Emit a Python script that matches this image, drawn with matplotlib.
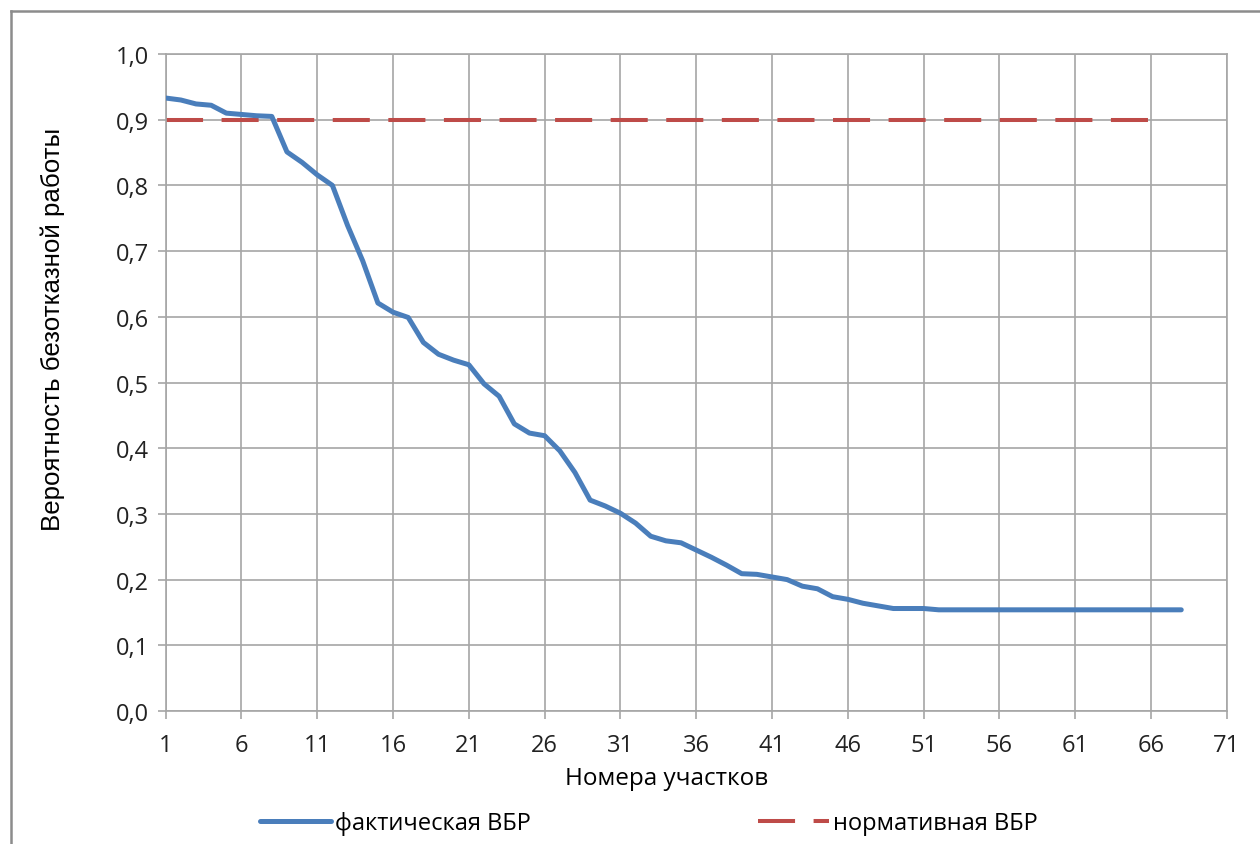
import matplotlib
matplotlib.use('Agg')
from matplotlib import pyplot as plt
from matplotlib.lines import Line2D
from matplotlib.ticker import FuncFormatter

# data
sections = list(range(1, 69))
actual = [0.933, 0.930, 0.924, 0.922, 0.910, 0.908, 0.906, 0.905, 0.851, 0.835,
          0.816, 0.800, 0.739, 0.685, 0.621, 0.607, 0.599, 0.561, 0.543, 0.534,
          0.527, 0.498, 0.479, 0.437, 0.423, 0.419, 0.396, 0.363, 0.321, 0.312,
          0.301, 0.286, 0.266, 0.259, 0.256, 0.245, 0.234, 0.222, 0.209, 0.208,
          0.204, 0.200, 0.190, 0.186, 0.174, 0.170, 0.164, 0.160, 0.156, 0.156,
          0.156, 0.154, 0.154, 0.154, 0.154, 0.154, 0.154, 0.154, 0.154, 0.154,
          0.154, 0.154, 0.154, 0.154, 0.154, 0.154, 0.154, 0.154]
norm_sections = list(range(1, 68))
norm = [0.9] * len(norm_sections)
x_ticks = list(range(1, 72, 5))
y_ticks = [i / 10 for i in range(11)]

blue = '#4A7EBB'
red = '#BE4B48'
grid_c = '#A6A6A6'
font = ['Open Sans', 'DejaVu Sans']

fig = plt.figure(figsize=(12.6, 8.45), dpi=100)
ax = fig.add_axes([0.1315, 0.1574, 0.9736 - 0.1315, 0.9349 - 0.1574])

ax.plot(sections, actual, color=blue, lw=3.6, solid_joinstyle='round',
        solid_capstyle='round', label='фактическая ВБР', zorder=3)
ax.plot(norm_sections, norm, color=red, lw=2.9, dashes=(9.2, 4.6),
        label='нормативная ВБР', zorder=2)

ax.set_xlim(1, 71)
ax.set_ylim(0, 1)
ax.set_xticks(x_ticks)
ax.set_yticks(y_ticks)
ax.yaxis.set_major_formatter(FuncFormatter(lambda v, p: f'{v:.1f}'.replace('.', ',')))
ax.grid(True, color=grid_c, lw=1.2)
ax.set_axisbelow(True)
for s in ax.spines.values():
    s.set_color(grid_c)
    s.set_linewidth(1.2)
ax.tick_params(axis='both', colors=grid_c, length=6, width=1.2, labelsize=17,
               labelcolor='#222222')
ax.tick_params(axis='x', pad=10)
ax.tick_params(axis='y', pad=6)
for lbl in ax.get_xticklabels() + ax.get_yticklabels():
    lbl.set_family(font)

ax.set_xlabel('Номера участков', fontsize=17.5, family=font)
ax.xaxis.set_label_coords(0.4725, -0.084)
ax.set_ylabel('Вероятность безотказной работы', fontsize=18.6,
              family=['Liberation Sans', 'DejaVu Sans'])
ax.yaxis.set_label_coords(-0.095, 0.583)

leg = fig.legend(loc='center', bbox_to_anchor=(0.515, 0.025), ncol=2,
                 frameon=False, prop={'family': font, 'size': 17},
                 handlelength=3.0, handletextpad=0.2, columnspacing=9.6)

# chart frame (left and top edges visible)
fig.add_artist(Line2D([11 / 1260, 11 / 1260], [0, 1 - 12 / 845],
                      transform=fig.transFigure, color='#8C8C8C', lw=1.8))
fig.add_artist(Line2D([11 / 1260, 1], [1 - 12 / 845, 1 - 12 / 845],
                      transform=fig.transFigure, color='#8C8C8C', lw=1.8))

fig.savefig('out.png', dpi=100, facecolor='white')
